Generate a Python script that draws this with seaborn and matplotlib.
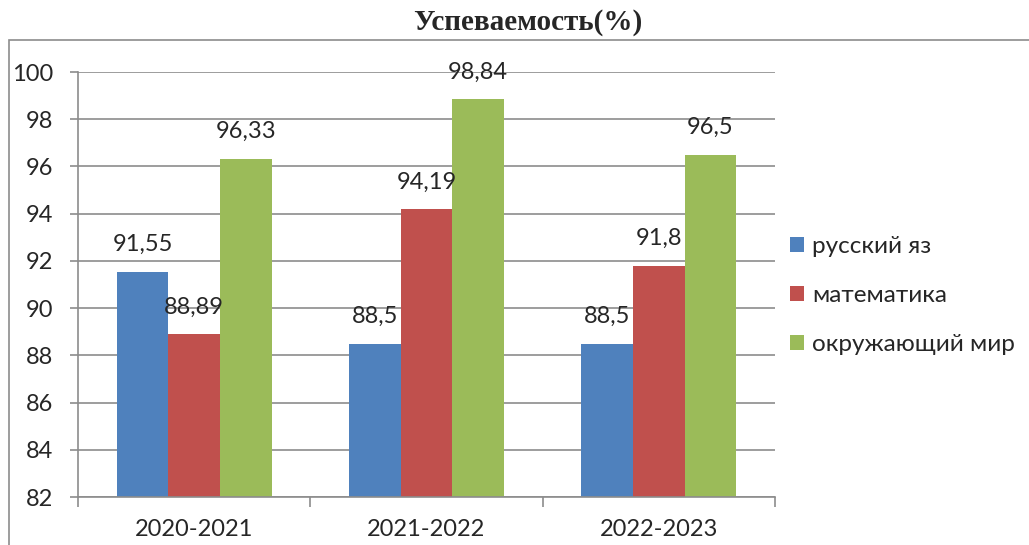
import matplotlib
matplotlib.use("agg")
import matplotlib.pyplot as plt
import matplotlib.patches as patches
import seaborn as sns
import pandas as pd

years = ['2020-2021', '2021-2022', '2022-2023']
subjects = ['русский яз', 'математика', 'окружающий мир']
russian = [91.55, 88.5, 88.5]
math = [88.89, 94.19, 91.8]
world = [96.33, 98.84, 96.5]
colors = ['#4F81BD', '#C0504D', '#9BBB59']

rows = []
for subj, vals in zip(subjects, [russian, math, world]):
    for y, v in zip(years, vals):
        rows.append({'year': y, 'subject': subj, 'value': v})
df = pd.DataFrame(rows)

sns.set_style('white')
plt.rcParams['font.family'] = ['Lato', 'DejaVu Sans']
plt.rcParams['font.size'] = 17

fig = plt.figure(figsize=(10.29, 5.45), dpi=100)
ax = fig.add_axes([78 / 1029, 1 - 497 / 545, 697 / 1029, 425 / 545])

sns.barplot(data=df, x='year', y='value', hue='subject', palette=colors,
            width=0.667, ax=ax, saturation=1, edgecolor='none')

ax.set_ylim(82, 100)
ax.set_xlim(-0.5, 2.5)
ax.set_yticks(range(82, 101, 2))
ax.set_xlabel('')
ax.set_ylabel('')
ax.yaxis.grid(True, color='#8c8c8c', linewidth=1.2)
ax.set_axisbelow(True)
for s in ['top', 'right']:
    ax.spines[s].set_visible(False)
for s in ['left', 'bottom']:
    ax.spines[s].set_color('#8c8c8c')
    ax.spines[s].set_linewidth(1.2)

# ticks: y outward, x at category borders
ax.tick_params(axis='y', length=6, width=1.2, color='#8c8c8c', direction='out',
               left=True, pad=12, labelsize=17)
ax.set_xticks([-0.5, 0.5, 1.5, 2.5], minor=True)
ax.tick_params(axis='x', which='major', length=0, pad=16, labelsize=17)
ax.tick_params(axis='x', which='minor', length=7, width=1.2, color='#8c8c8c', direction='out', bottom=True)

for cont in ax.containers:
    ax.bar_label(cont, labels=[('%g' % v).replace('.', ',') for v in cont.datavalues],
                 padding=12, fontsize=17)

leg = ax.legend(loc='center left', bbox_to_anchor=(0.99, 0.474), frameon=False,
                handlelength=0.6, handleheight=0.6, handletextpad=0.3,
                labelspacing=1.15, fontsize=17.5)

fig.text(0.513, 0.958, 'Успеваемость(%)', ha='center', va='center',
         fontsize=21, fontweight='bold', family='Liberation Serif')

frame = patches.Rectangle((9 / 1029, -0.1), 1.2, 1 - 40 / 545 + 0.1, transform=fig.transFigure,
                          fill=False, edgecolor='#8c8c8c', linewidth=1.2, clip_on=False)
fig.patches.append(frame)

plt.savefig('out.png', dpi=100)
plt.close()
